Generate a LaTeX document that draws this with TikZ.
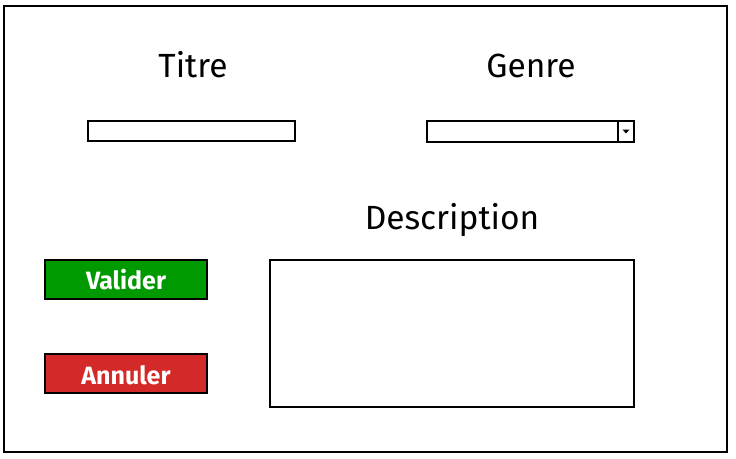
\documentclass[tikz,border=0pt]{standalone}
\usepackage{fontspec}
\setmainfont{Fira Sans}
\usepackage{tikz}
\usetikzlibrary{calc}
\definecolor{okgreen}{RGB}{0,153,0}
\definecolor{cancelred}{RGB}{211,41,41}

\begin{document}
\begin{tikzpicture}[x=1pt,y=-1pt,
    field/.style={draw=black,line width=1.3pt,fill=white},
    heading/.style={font=\fontsize{33.5}{36}\selectfont,anchor=base},
    button/.style={draw=black,line width=1.5pt,font=\fontsize{25}{28}\selectfont\bfseries,text=white}]
    \useasboundingbox (0,0) rectangle (736,458);
    \draw[line width=1.6pt] (4,6) rectangle (727,452);

    % titre
    \node[heading] (titre) at (193,77) {Titre};
    \draw[field] (88,121) rectangle (295,141);
    % genre
    \node[heading] (genre) at (531,77) {Genre};
    \draw[field] (427,121) rectangle (634,142);
    \draw[line width=1.1pt] (618,121) -- (618,142);
    \fill (622.5,129.5) -- (629.5,129.5) -- (626,133.5) -- cycle;

    % description
    \node[heading] (descr) at (452,229) {Description};
    \draw[field] (270,260) rectangle (634,407);

    % boutons
    \draw[button,fill=okgreen] (45,260) rectangle (207,299) node[midway] (valider) {Valider};
    \draw[button,fill=cancelred] (45,354) rectangle (207,393) node[midway,yshift=-2pt] (annuler) {Annuler};
\end{tikzpicture}
\end{document}
